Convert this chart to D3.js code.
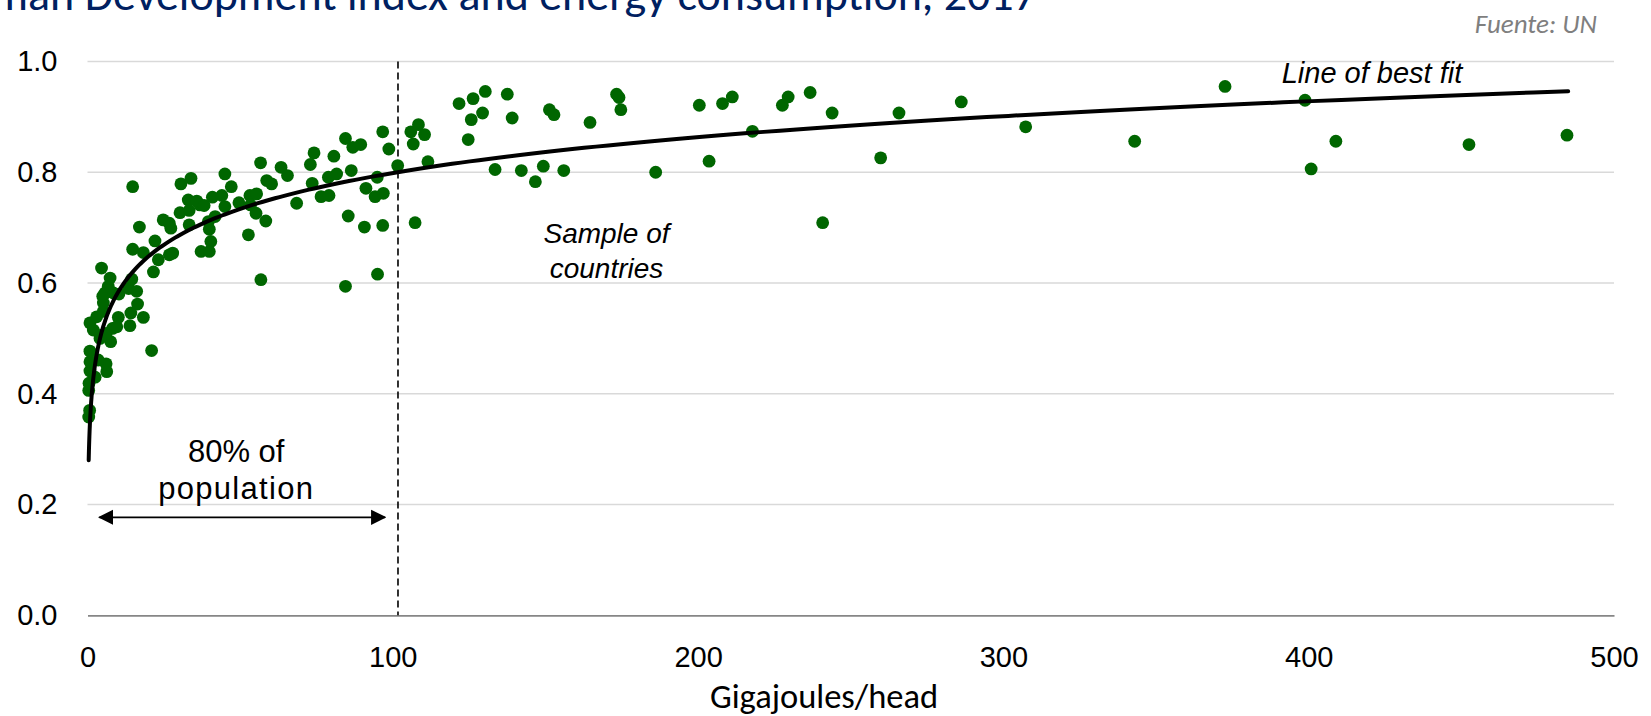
<!DOCTYPE html>
<html>
<head>
<meta charset="utf-8">
<script src="https://cdn.jsdelivr.net/npm/d3@7"></script>
<style>
	body { margin: 0; background: #fff; }
	svg { display: block; }
</style>
</head>
<body>
<div id="chart"></div>
<script>
// energy use (GJ per head) and HDI, one entry per country
var gigajoules = [
	0.4, 0.7, 0.4, 0.5, 2.5, 0.8, 6.3, 6.1, 3.5, 0.8, 0.8, 21.0, 7.6, 4.6, 6.1, 4.1, 0.8, 1.9, 8.2,
	3.0, 5.2, 9.6, 10.1, 13.9, 14.2, 16.4, 18.3, 5.0, 5.2, 5.7, 6.8, 7.4, 8.5, 10.3, 13.5, 16.1, 14.5, 4.6,
	14.8, 17.0, 14.8, 18.3, 21.6, 22.1, 23.2, 24.8, 26.8, 27.3, 26.8, 27.9, 30.3, 30.6, 33.9, 33.0, 33.3,
	33.3, 35.8, 36.8, 38.2, 39.6, 39.9, 40.4, 37.2, 39.9, 40.9, 41.8, 44.0, 45.0, 47.1, 45.0, 49.6, 52.7,
	53.2, 55.4, 53.4, 55.2, 56.7, 56.8, 58.4, 58.7, 60.3,
	63.4, 65.5, 68.5, 73.0, 74.2, 73.6, 76.5, 79.1, 78.9, 81.6, 80.7, 84.5, 86.9, 89.5, 86.4, 85.4, 84.5,
	91.2, 90.7, 94.2, 96.9, 94.9, 96.7, 95.0, 96.7, 98.7, 101.6, 105.9, 106.7, 108.4, 110.4, 111.5, 107.3,
	121.7, 126.3, 130.3, 125.7, 129.4, 124.7, 137.5, 139.1, 133.5, 142.1, 146.7, 149.3, 156.0, 151.3,
	152.8, 164.6, 173.3, 174.1, 174.7, 186.1, 200.4, 203.6, 208.0, 211.2, 217.8, 227.6, 229.5, 236.7,
	243.9, 240.8, 259.8, 265.8, 286.2, 307.3, 343.0, 372.6, 398.8, 408.9, 400.8, 452.5, 484.6
];
var hdi = [
	0.358, 0.370, 0.406, 0.419, 0.430, 0.441, 0.440, 0.454, 0.461, 0.458, 0.477, 0.478, 0.494, 0.506, 0.509, 0.500, 0.528, 0.515, 0.518,
	0.539, 0.549, 0.521, 0.538, 0.523, 0.546, 0.562, 0.538, 0.576, 0.564, 0.582, 0.594, 0.609, 0.582, 0.580, 0.590, 0.585, 0.607, 0.627,
	0.774, 0.701, 0.661, 0.655, 0.620, 0.676, 0.642, 0.714, 0.708, 0.699, 0.651, 0.654, 0.727, 0.779, 0.789, 0.750, 0.731,
	0.705, 0.748, 0.741, 0.740, 0.711, 0.697, 0.675, 0.657, 0.657, 0.755, 0.720, 0.758, 0.797, 0.774, 0.738, 0.745, 0.687,
	0.758, 0.761, 0.741, 0.726, 0.817, 0.606, 0.712, 0.785, 0.779,
	0.809, 0.794, 0.744, 0.814, 0.835, 0.780, 0.756, 0.758, 0.791, 0.797, 0.829, 0.861, 0.845, 0.850, 0.803, 0.721, 0.594,
	0.771, 0.701, 0.756, 0.762, 0.791, 0.704, 0.616, 0.873, 0.842, 0.812, 0.873, 0.851, 0.886, 0.868, 0.819, 0.709,
	0.924, 0.933, 0.946, 0.895, 0.907, 0.859, 0.941, 0.898, 0.805, 0.803, 0.783, 0.811, 0.803, 0.913,
	0.904, 0.890, 0.941, 0.935, 0.913, 0.800, 0.921, 0.820, 0.924, 0.936, 0.874, 0.921, 0.936, 0.944,
	0.907, 0.709, 0.826, 0.907, 0.927, 0.882, 0.856, 0.955, 0.930, 0.856, 0.806, 0.850, 0.867
];
var xTicks = [0, 100, 200, 300, 400, 500];
var yTicks = [0, 0.2, 0.4, 0.6, 0.8, 1.0];
var popCutoff = 101.7;   // GJ/head below which 80% of people live

// log trendline as drawn in the source: hdi = fitA * ln(gj) + fitB
var fitA = 0.0935, fitB = 0.368;
var fitRange = [0.39, 485];

var titleText = "Human Development index and energy consumption, 2017";
var sourceText = "Fuente: UN";
var xTitle = "Gigajoules/head";

var width = 1651, height = 716;
var margin = {left: 87.5, right: 37, top: 61.5, bottom: 100.7};
var arial = "'Liberation Sans', Arial, sans-serif";
var calibri = "Carlito, Lato, sans-serif";

var svg = d3.select("#chart").append("svg")
	.attr("width", width)
	.attr("height", height);

var x = d3.scaleLinear().domain([0, 500]).range([margin.left, width - margin.right]);
var y = d3.scaleLinear().domain([0, 1]).range([height - margin.bottom, margin.top]);

// gridlines
svg.append("g")
	.selectAll("line")
	.data(yTicks.slice(1))
	.enter().append("line")
	.attr("x1", x(0)).attr("x2", x(500))
	.attr("y1", function(d) { return y(d); })
	.attr("y2", function(d) { return y(d); })
	.attr("stroke", "#d9d9d9")
	.attr("stroke-width", 1.5);

// y axis labels
var yAxis = svg.append("g")
	.attr("transform", "translate(" + x(0) + ",0)")
	.call(d3.axisLeft(y).tickValues(yTicks).tickFormat(d3.format(".1f")).tickSize(0).tickPadding(30));
yAxis.select(".domain").remove();
yAxis.selectAll("text")
	.attr("font-family", arial)
	.attr("font-size", 29)
	.attr("fill", "#000");

// x axis
var xAxis = svg.append("g")
	.attr("transform", "translate(0," + y(0) + ")")
	.call(d3.axisBottom(x).tickValues(xTicks).tickSize(0).tickPadding(31));
xAxis.select(".domain")
	.attr("stroke", "#868686")
	.attr("stroke-width", 1.8);
xAxis.selectAll("text")
	.attr("font-family", arial)
	.attr("font-size", 29)
	.attr("fill", "#000");

svg.append("text")
	.attr("x", 824)
	.attr("y", 708)
	.attr("text-anchor", "middle")
	.attr("font-family", calibri)
	.attr("font-size", 34.5)
	.attr("fill", "#000")
	.text(xTitle);

// 80% of population cut-off
svg.append("line")
	.attr("x1", x(popCutoff)).attr("x2", x(popCutoff))
	.attr("y1", y(1)).attr("y2", y(0))
	.attr("stroke", "#000")
	.attr("stroke-width", 1.6)
	.attr("stroke-dasharray", "7,4");

var defs = svg.append("defs");
defs.append("marker")
	.attr("id", "arrowhead")
	.attr("viewBox", "0 0 10 10")
	.attr("refX", 9).attr("refY", 5)
	.attr("markerWidth", 8.5).attr("markerHeight", 9)
	.attr("markerUnits", "strokeWidth")
	.attr("orient", "auto-start-reverse")
	.append("path")
	.attr("d", "M0,0L10,5L0,10Z")
	.attr("fill", "#000");

svg.append("line")
	.attr("x1", x(3.9)).attr("x2", x(97.4))
	.attr("y1", y(0.177)).attr("y2", y(0.177))
	.attr("stroke", "#000")
	.attr("stroke-width", 1.8)
	.attr("marker-start", "url(#arrowhead)")
	.attr("marker-end", "url(#arrowhead)");

svg.append("text")
	.attr("x", x(48.7))
	.attr("y", y(0.276))
	.attr("text-anchor", "middle")
	.attr("font-family", arial)
	.attr("font-size", 31)
	.text("80% of");
svg.append("text")
	.attr("x", x(48.7))
	.attr("y", y(0.21))
	.attr("text-anchor", "middle")
	.attr("font-family", arial)
	.attr("font-size", 31)
	.attr("letter-spacing", 1.3)
	.text("population");

// country dots
var points = gigajoules.map(function(g, i) { return {gj: g, hdi: hdi[i]}; });
svg.append("g")
	.selectAll("circle")
	.data(points)
	.enter().append("circle")
	.attr("cx", function(d) { return x(d.gj); })
	.attr("cy", function(d) { return y(d.hdi); })
	.attr("r", 6.4)
	.attr("fill", "#006600");

// trendline, sampled on a log grid so the steep start stays smooth
var fitPts = d3.range(0, 301).map(function(i) {
	var g = fitRange[0] * Math.pow(fitRange[1] / fitRange[0], i / 300);
	return [g, fitA * Math.log(g) + fitB];
});
svg.append("path")
	.datum(fitPts)
	.attr("fill", "none")
	.attr("stroke", "#000")
	.attr("stroke-width", 4)
	.attr("stroke-linecap", "round")
	.attr("d", d3.line()
		.x(function(d) { return x(d[0]); })
		.y(function(d) { return y(d[1]); }));

// annotations
svg.append("text")
	.attr("x", 1281.7)
	.attr("y", 83.3)
	.attr("font-family", arial)
	.attr("font-style", "italic")
	.attr("font-size", 29)
	.text("Line of best fit");

svg.append("text")
	.attr("x", x(170))
	.attr("y", 243.3)
	.attr("text-anchor", "middle")
	.attr("font-family", arial)
	.attr("font-style", "italic")
	.attr("font-size", 28)
	.text("Sample of");
svg.append("text")
	.attr("x", x(170))
	.attr("y", 278)
	.attr("text-anchor", "middle")
	.attr("font-family", arial)
	.attr("font-style", "italic")
	.attr("font-size", 28)
	.text("countries");

// title, cut off at the top edge like the source
svg.append("text")
	.attr("x", 1037)
	.attr("y", 9.5)
	.attr("text-anchor", "end")
	.attr("font-family", calibri)
	.attr("font-size", 46)
	.attr("fill", "#002060")
	.text(titleText);

svg.append("text")
	.attr("x", 1597)
	.attr("y", 33)
	.attr("text-anchor", "end")
	.attr("font-family", calibri)
	.attr("font-style", "italic")
	.attr("font-size", 27)
	.attr("fill", "#7f7f7f")
	.text(sourceText);
</script>
</body>
</html>
